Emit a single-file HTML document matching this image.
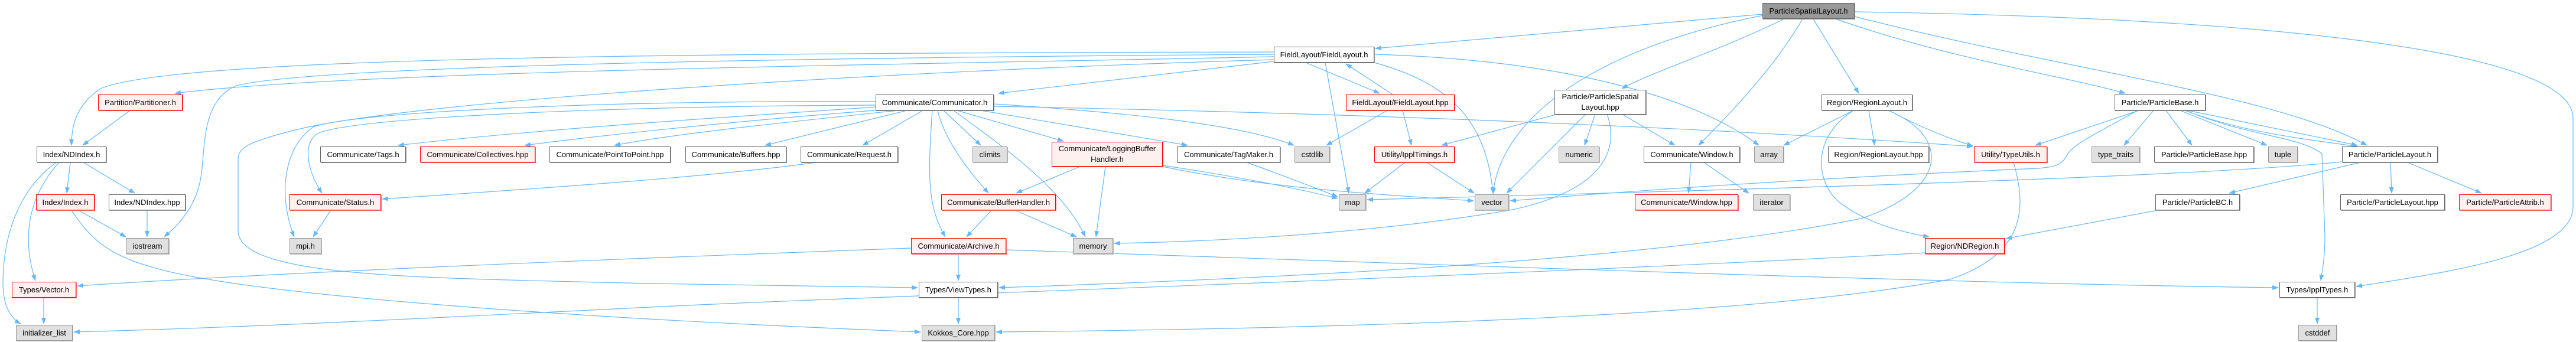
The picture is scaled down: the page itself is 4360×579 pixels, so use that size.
<!DOCTYPE html>
<html><head><meta charset="utf-8">
<style>
html,body{margin:0;padding:0;background:#fff;}
body{width:4360px;height:579px;position:relative;overflow:hidden;font-family:"Liberation Sans",sans-serif;}
svg{position:absolute;left:0;top:0;}
.n{position:absolute;box-sizing:border-box;height:27px;line-height:25px;font-size:13px;text-align:center;white-space:nowrap;color:#000;background:#fff;border:1px solid #666;box-shadow:1px 1px 0 #999;}
.r{border:1px solid #f00;background:#fff0f0;box-shadow:1px 1px 0 #f66;}
.g{background:#e0e0e0;border:1px solid #999;box-shadow:1px 1px 0 #bbb;}
.d{background:#999;border:1px solid #666;}
.t{height:42px;line-height:18px;padding-top:2px;}
</style></head><body>
<svg width="4360" height="579" viewBox="0 0 4360 579">
<defs><marker id="a" markerUnits="userSpaceOnUse" markerWidth="11" markerHeight="8" refX="10" refY="4" orient="auto"><path d="M0,0 L11,4 L0,8 z" fill="#63b8ff"/></marker></defs>
<g fill="none" stroke="#63b8ff" stroke-width="1.2" marker-end="url(#a)">
<path d="M2983,24 L2328,82"/>
<path d="M2990,25 C2700,80 2540,200 2527,328"/>
<path d="M3020,32 C2900,90 2800,120 2745,150"/>
<path d="M3051,32 C3000,120 2920,200 2875,246"/>
<path d="M3069,32 L3146,158"/>
<path d="M3107,32 C3300,100 3500,130 3597,158"/>
<path d="M3139,28 C3500,120 3850,160 4006,246"/>
<path d="M3139,20 C3800,30 4355,80 4355,200 L4355,350 C4355,430 4150,460 3988,485"/>
<path d="M2156,96 C1500,110 600,120 296,158"/>
<path d="M2156,88 C1200,90 300,95 170,150 C125,180 121,220 121,246"/>
<path d="M2156,92 C1000,100 500,120 400,145 C340,170 348,250 340,300 C330,360 290,390 278,401"/>
<path d="M2156,104 L1690,158"/>
<path d="M2210,106 L2335,158"/>
<path d="M2357,160 L2278,108"/>
<path d="M2243,106 L2283,327"/>
<path d="M2326,106 C2450,140 2515,200 2527,327"/>
<path d="M2326,92 C2600,100 2850,150 2977,246"/>
<path d="M2156,101 C1500,120 700,170 500,220 C420,240 403,250 403,270 L403,390 C403,470 700,470 1100,480 L1553,487"/>
<path d="M1500,180 C1200,200 900,220 674,246"/>
<path d="M1520,184 C1300,200 1050,225 888,246"/>
<path d="M1530,186 C1350,205 1150,225 1040,246"/>
<path d="M1535,187 L1295,246"/>
<path d="M1562,187 L1460,246"/>
<path d="M1597,187 L1660,246"/>
<path d="M1620,187 L1800,239"/>
<path d="M1660,187 L2010,246"/>
<path d="M1682,176 C1900,190 2100,210 2190,246"/>
<path d="M1682,180 C2200,190 2800,210 3339,248"/>
<path d="M1587,187 C1600,240 1640,290 1673,327"/>
<path d="M1578,187 C1570,300 1570,350 1600,401"/>
<path d="M1614,187 C1700,250 1800,320 1837,401"/>
<path d="M1482,178 C1000,180 600,200 540,225 C510,240 520,290 545,327"/>
<path d="M1482,172 C1000,170 600,190 530,215 C480,250 470,330 498,401"/>
<path d="M1828,282 L1720,327"/>
<path d="M1871,282 L1855,401"/>
<path d="M1968,280 C2100,300 2200,320 2264,336"/>
<path d="M1968,282 C2150,320 2350,330 2494,340"/>
<path d="M2110,275 C2180,300 2230,320 2264,333"/>
<path d="M1382,275 C1200,300 900,320 647,337"/>
<path d="M1678,356 L1636,401"/>
<path d="M1718,356 L1822,401"/>
<path d="M1622,430 L1622,475"/>
<path d="M1542,420 C1000,440 500,460 131,484"/>
<path d="M1703,423 C2500,450 3300,480 3856,487"/>
<path d="M1622,504 L1622,548"/>
<path d="M121,356 C150,400 180,430 250,450 C400,500 1000,540 1558,562"/>
<path d="M133,356 L213,401"/>
<path d="M249,356 L249,401"/>
<path d="M119,275 L113,327"/>
<path d="M141,275 L228,327"/>
<path d="M100,275 C50,330 35,400 60,475"/>
<path d="M95,275 C20,330 5,420 5,480 C5,520 20,540 35,548"/>
<path d="M560,356 L530,401"/>
<path d="M74,504 L74,548"/>
<path d="M3258,428 C2500,470 1500,500 1100,520 C700,540 400,555 125,562"/>
<path d="M3137,187 L3019,246"/>
<path d="M3163,187 L3173,246"/>
<path d="M3137,187 C3070,230 3070,300 3110,340 C3160,380 3230,395 3265,401"/>
<path d="M3197,187 C3250,215 3300,235 3339,247"/>
<path d="M3196,187 C3300,230 3300,320 3150,370 C2800,440 2200,470 1691,487"/>
<path d="M2637,193 L2440,246"/>
<path d="M2684,193 L2550,327"/>
<path d="M2700,193 L2682,246"/>
<path d="M2745,193 L2835,246"/>
<path d="M2720,193 C2740,250 2720,320 2560,355 C2300,400 2000,410 1886,412"/>
<path d="M2348,187 L2245,246"/>
<path d="M2374,187 L2389,246"/>
<path d="M2378,275 L2310,327"/>
<path d="M2415,275 L2495,327"/>
<path d="M2862,275 L2858,327"/>
<path d="M2884,275 L2960,327"/>
<path d="M3620,187 L3445,246"/>
<path d="M3645,187 L3595,246"/>
<path d="M3666,187 L3710,246"/>
<path d="M3690,187 L3837,246"/>
<path d="M3703,187 L3990,246"/>
<path d="M3698,187 C3800,225 3900,235 3990,248"/>
<path d="M3700,187 C3800,230 3890,230 3930,260 L3935,400 C3935,440 3930,460 3928,475"/>
<path d="M3618,187 C3560,220 3515,240 3500,260 C3490,280 3480,282 3450,285 C3100,300 2800,320 2556,340"/>
<path d="M3964,274 C3700,300 3000,320 2314,338"/>
<path d="M3995,275 L3773,327"/>
<path d="M4046,275 L4048,327"/>
<path d="M4075,275 L4200,327"/>
<path d="M3652,356 L3395,404"/>
<path d="M3408,275 C3430,350 3430,430 3300,473 C3000,530 2400,555 1686,562"/>
<path d="M3922,504 L3922,548"/>
<path d="M220,187 L140,246"/>
</g>
</svg>
<div class="n d" style="left:2983px;top:5px;width:156px">ParticleSpatialLayout.h</div>
<div class="n" style="left:2156px;top:79px;width:170px">FieldLayout/FieldLayout.h</div>
<div class="n r" style="left:166px;top:160px;width:143px">Partition/Partitioner.h</div>
<div class="n" style="left:1482px;top:160px;width:200px">Communicate/Communicator.h</div>
<div class="n r" style="left:2278px;top:160px;width:184px">FieldLayout/FieldLayout.hpp</div>
<div class="n t" style="left:2631px;top:152px;width:155px">Particle/ParticleSpatial<br>Layout.hpp</div>
<div class="n" style="left:3083px;top:160px;width:154px">Region/RegionLayout.h</div>
<div class="n" style="left:3579px;top:160px;width:154px">Particle/ParticleBase.h</div>
<div class="n" style="left:62px;top:248px;width:118px">Index/NDIndex.h</div>
<div class="n" style="left:542px;top:248px;width:145px">Communicate/Tags.h</div>
<div class="n r" style="left:711px;top:248px;width:195px">Communicate/Collectives.hpp</div>
<div class="n" style="left:930px;top:248px;width:205px">Communicate/PointToPoint.hpp</div>
<div class="n" style="left:1160px;top:248px;width:171px">Communicate/Buffers.hpp</div>
<div class="n" style="left:1355px;top:248px;width:165px">Communicate/Request.h</div>
<div class="n g" style="left:1646px;top:248px;width:59px">climits</div>
<div class="n r t" style="left:1780px;top:240px;width:188px">Communicate/LoggingBuffer<br>Handler.h</div>
<div class="n" style="left:1992px;top:248px;width:175px">Communicate/TagMaker.h</div>
<div class="n g" style="left:2191px;top:248px;width:60px">cstdlib</div>
<div class="n r" style="left:2326px;top:248px;width:136px">Utility/IpplTimings.h</div>
<div class="n g" style="left:2638px;top:248px;width:69px">numeric</div>
<div class="n" style="left:2782px;top:248px;width:163px">Communicate/Window.h</div>
<div class="n g" style="left:2969px;top:248px;width:50px">array</div>
<div class="n" style="left:3094px;top:248px;width:171px">Region/RegionLayout.hpp</div>
<div class="n r" style="left:3341px;top:248px;width:124px">Utility/TypeUtils.h</div>
<div class="n g" style="left:3540px;top:248px;width:82px">type_traits</div>
<div class="n" style="left:3646px;top:248px;width:169px">Particle/ParticleBase.hpp</div>
<div class="n g" style="left:3839px;top:248px;width:50px">tuple</div>
<div class="n" style="left:3964px;top:248px;width:162px">Particle/ParticleLayout.h</div>
<div class="n r" style="left:61px;top:329px;width:99px">Index/Index.h</div>
<div class="n" style="left:184px;top:329px;width:130px">Index/NDIndex.hpp</div>
<div class="n r" style="left:490px;top:329px;width:155px">Communicate/Status.h</div>
<div class="n r" style="left:1593px;top:329px;width:194px">Communicate/BufferHandler.h</div>
<div class="n g" style="left:2266px;top:329px;width:46px">map</div>
<div class="n g" style="left:2496px;top:329px;width:58px">vector</div>
<div class="n r" style="left:2767px;top:329px;width:175px">Communicate/Window.hpp</div>
<div class="n g" style="left:2967px;top:329px;width:63px">iterator</div>
<div class="n" style="left:3648px;top:329px;width:143px">Particle/ParticleBC.h</div>
<div class="n" style="left:3961px;top:329px;width:177px">Particle/ParticleLayout.hpp</div>
<div class="n r" style="left:4162px;top:329px;width:156px">Particle/ParticleAttrib.h</div>
<div class="n g" style="left:213px;top:403px;width:73px">iostream</div>
<div class="n g" style="left:490px;top:403px;width:54px">mpi.h</div>
<div class="n r" style="left:1542px;top:403px;width:161px">Communicate/Archive.h</div>
<div class="n g" style="left:1816px;top:403px;width:68px">memory</div>
<div class="n r" style="left:3258px;top:403px;width:135px">Region/NDRegion.h</div>
<div class="n r" style="left:20px;top:477px;width:109px">Types/Vector.h</div>
<div class="n" style="left:1555px;top:477px;width:134px">Types/ViewTypes.h</div>
<div class="n" style="left:3858px;top:477px;width:128px">Types/IpplTypes.h</div>
<div class="n g" style="left:27px;top:550px;width:96px">initializer_list</div>
<div class="n g" style="left:1560px;top:550px;width:124px">Kokkos_Core.hpp</div>
<div class="n g" style="left:3890px;top:550px;width:65px">cstddef</div>
</body></html>
